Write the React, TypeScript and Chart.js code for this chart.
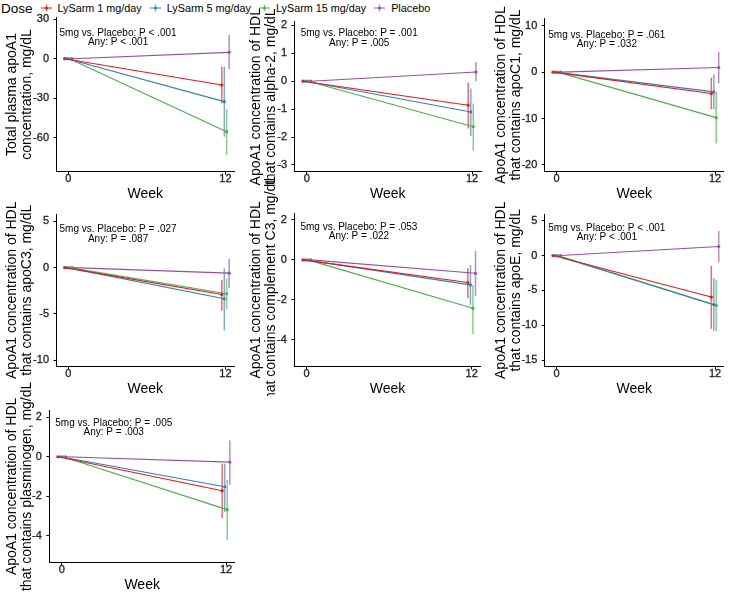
import React, { useEffect, useRef } from 'react';
import { Chart, registerables } from 'chart.js';

Chart.register(...registerables);

const FONT = '"Liberation Sans", Arial, Helvetica, sans-serif';

// ---------- data ----------
const WEEKS = [0, 12];
const DOSES = ['LySarm 1 mg/day', 'LySarm 5 mg/day', 'LySarm 15 mg/day', 'Placebo'];
const COLORS = ['#E41A1C', '#377EB8', '#4DAF4A', '#984EA3'];
const DODGE = [-0.28, -0.09, 0.09, 0.28];
const WEEK0_CHANGE = [0, 0, 0, 0];

// week-12 change from baseline: mean, lower, upper (dose order as DOSES)
const TOTAL_MEAN = [-19.9, -32.5, -55.2, 4.8];
const TOTAL_LO = [-33.7, -59.0, -72.8, -8.0];
const TOTAL_HI = [-6.1, -6.1, -38.3, 17.9];
const TOTAL_TICKS = [30, 0, -30, -60];

const ALPHA2_MEAN = [-0.86, -1.1, -1.63, 0.33];
const ALPHA2_LO = [-1.69, -1.96, -2.49, 0.01];
const ALPHA2_HI = [-0.06, -0.26, -0.8, 0.69];
const ALPHA2_TICKS = [2, 1, 0, -1, -2, -3];

const APOC1_MEAN = [-4.6, -4.25, -9.8, 1.0];
const APOC1_LO = [-8.0, -8.0, -15.4, -2.4];
const APOC1_HI = [-1.2, -0.5, -4.25, 4.4];
const APOC1_TICKS = [10, 0, -10, -20];

const APOC3_MEAN = [-2.91, -3.37, -2.83, -0.6];
const APOC3_LO = [-4.67, -6.78, -4.51, -2.2];
const APOC3_HI = [-1.31, -0.07, -1.2, 0.97];
const APOC3_TICKS = [5, 0, -5, -10];

const C3_MEAN = [-1.13, -1.25, -2.42, -0.67];
const C3_LO = [-1.92, -2.25, -3.7, -1.8];
const C3_HI = [-0.42, -0.25, -1.25, 0.45];
const C3_TICKS = [2, 0, -2, -4];

const APOE_MEAN = [-5.95, -7.05, -7.14, 1.29];
const APOE_LO = [-10.5, -10.76, -10.86, -0.95];
const APOE_HI = [-1.48, -3.24, -3.48, 3.5];
const APOE_TICKS = [5, 0, -5, -10, -15];

const PLG_MEAN = [-1.72, -1.52, -2.68, -0.27];
const PLG_LO = [-3.1, -2.8, -4.22, -1.43];
const PLG_HI = [-0.35, -0.35, -1.18, 0.82];
const PLG_TICKS = [2, 0, -2, -4];

const Y_TITLES = [
  ['Total plasma apoA1', 'concentration, mg/dL'],
  ['ApoA1 concentration of HDL', 'that contains alpha-2, mg/dL'],
  ['ApoA1 concentration of HDL', 'that contains apoC1, mg/dL'],
  ['ApoA1 concentration of HDL', 'that contains apoC3, mg/dL'],
  ['ApoA1 concentration of HDL', 'that contains complement C3, mg/dL'],
  ['ApoA1 concentration of HDL', 'that contains apoE, mg/dL'],
  ['ApoA1 concentration of HDL', 'that contains plasminogen, mg/dL'],
];
const P_5MG = ['P < .001', 'P = .001', 'P = .061', 'P = .027', 'P = .053', 'P < .001', 'P = .005'];
const P_ANY = ['P < .001', 'P = .005', 'P = .032', 'P = .087', 'P = .022', 'P < .001', 'P = .003'];
const ANNOT_X = 3.8;
const ANNOT_Y = [19.5, 1.7, 8.0, 4.1, 1.65, 3.9, 1.72];
const Y_RANGES = [
  [-85.5, 31.3],
  [-3.24, 2.13],
  [-21.45, 11.6],
  [-10.7, 5.8],
  [-5.33, 2.33],
  [-15.9, 5.95],
  [-5.37, 2.37],
];

const PANELS = [
  { mean: TOTAL_MEAN, lo: TOTAL_LO, hi: TOTAL_HI, ticks: TOTAL_TICKS },
  { mean: ALPHA2_MEAN, lo: ALPHA2_LO, hi: ALPHA2_HI, ticks: ALPHA2_TICKS },
  { mean: APOC1_MEAN, lo: APOC1_LO, hi: APOC1_HI, ticks: APOC1_TICKS },
  { mean: APOC3_MEAN, lo: APOC3_LO, hi: APOC3_HI, ticks: APOC3_TICKS },
  { mean: C3_MEAN, lo: C3_LO, hi: C3_HI, ticks: C3_TICKS },
  { mean: APOE_MEAN, lo: APOE_LO, hi: APOE_HI, ticks: APOE_TICKS },
  { mean: PLG_MEAN, lo: PLG_LO, hi: PLG_HI, ticks: PLG_TICKS },
];

// ---------- layout ----------
const X_MIN = -0.9;
const X_MAX = 12.65;
const GEOM = [
  { cx: 0, cy: 0, cw: 238, ch: 201, L: 56.5, T: 17.3, R: 234.5, B: 171.7, tx: 12.3 },
  { cx: 240, cy: 0, cw: 245, ch: 201, L: 294.5, T: 21.7, R: 482.3, B: 171.7, tx: 255.7 },
  { cx: 485, cy: 0, cw: 245, ch: 201, L: 544.8, T: 18.3, R: 723.6, B: 171.7, tx: 500.7 },
  { cx: 0, cy: 160, cw: 238, ch: 236, L: 56.5, T: 214, R: 234.5, B: 366.5, tx: 12.3 },
  { cx: 240, cy: 160, cw: 245, ch: 236, L: 294.3, T: 213.3, R: 480.6, B: 366.5, tx: 256 },
  { cx: 485, cy: 160, cw: 245, ch: 236, L: 544.8, T: 214, R: 723.6, B: 366.5, tx: 500.7 },
  { cx: 0, cy: 355, cw: 240, ch: 237, L: 49.4, T: 410, R: 234.9, B: 562.7, tx: 12.3 },
];
const TITLE_SIZE = 14;
const TITLE_LH = 1.07;
const TICK_SIZE = 11;
const TICK_COLOR = '#222';

function rgba(hex: string, a: number) {
  const n = parseInt(hex.slice(1), 16);
  return `rgba(${(n >> 16) & 255},${(n >> 8) & 255},${n & 255},${a})`;
}

function fmt(v: number) {
  return v < 0 ? '-' + String(Math.abs(v)) : String(v);
}

const errorBarPlugin = {
  id: 'errorBars',
  beforeDatasetsDraw(chart: any) {
    const { ctx } = chart;
    const y = chart.scales.y;
    chart.data.datasets.forEach((ds: any, k: number) => {
      const meta = chart.getDatasetMeta(k);
      const pt = meta.data[1];
      if (!pt) return;
      ctx.save();
      ctx.strokeStyle = rgba(COLORS[k], 0.65);
      ctx.lineWidth = 1.5;
      ctx.beginPath();
      ctx.moveTo(pt.x, y.getPixelForValue(ds.errLo));
      ctx.lineTo(pt.x, y.getPixelForValue(ds.errHi));
      ctx.stroke();
      ctx.restore();
    });
  },
};

// y tick labels drawn from the scale's ticks (plain hyphen minus, slightly heavier)
const yLabelPlugin = {
  id: 'yLabels',
  afterDraw(chart: any) {
    const { ctx } = chart;
    const y = chart.scales.y;
    ctx.save();
    ctx.font = `${TICK_SIZE}px ${FONT}`;
    ctx.fillStyle = TICK_COLOR;
    ctx.strokeStyle = TICK_COLOR;
    ctx.lineWidth = 0.3;
    ctx.textAlign = 'right';
    ctx.textBaseline = 'middle';
    y.ticks.forEach((t: any) => {
      const py = Math.round(y.getPixelForValue(t.value));
      const label = fmt(t.value);
      ctx.fillText(label, y.right - 7.5, py);
      ctx.strokeText(label, y.right - 7.5, py);
    });
    ctx.restore();
  },
};

function annotationPlugin(i: number) {
  return {
    id: 'pAnnot' + i,
    afterDatasetsDraw(chart: any) {
      const { ctx } = chart;
      const x = chart.scales.x.getPixelForValue(ANNOT_X);
      const y = chart.scales.y.getPixelForValue(ANNOT_Y[i]);
      ctx.save();
      ctx.font = `10px ${FONT}`;
      ctx.fillStyle = '#000';
      ctx.textAlign = 'center';
      ctx.textBaseline = 'middle';
      ctx.fillText('5mg vs. Placebo: ' + P_5MG[i], x, y);
      ctx.fillText('Any: ' + P_ANY[i], x, y + 9.3);
      ctx.restore();
    },
  };
}

function makeChart(canvas: HTMLCanvasElement, i: number) {
  const p = PANELS[i];
  const g = GEOM[i];
  const yw = g.L - g.cx;
  const xh = g.cy + g.ch - g.B;
  const titlePad = g.tx - g.cx - (TITLE_SIZE * TITLE_LH) / 2;
  const axisCommon = {
    grid: { display: true, drawOnChartArea: false, drawTicks: true, tickLength: 3, color: '#000', tickColor: '#000' },
    border: { display: true, color: '#000', width: 1 },
  };
  return new Chart(canvas, {
    type: 'line',
    data: {
      datasets: DOSES.map((name, k) => ({
        label: name,
        data: WEEKS.map((w, j) => ({ x: w + DODGE[k], y: j === 0 ? WEEK0_CHANGE[k] : p.mean[k] })),
        borderColor: COLORS[k],
        backgroundColor: COLORS[k],
        pointBackgroundColor: COLORS[k],
        borderWidth: 1.1,
        pointRadius: 1.6,
        pointBorderWidth: 0,
        fill: false,
        tension: 0,
        errLo: p.lo[k],
        errHi: p.hi[k],
      })) as any,
    },
    options: {
      animation: false,
      responsive: false,
      devicePixelRatio: 1,
      layout: { padding: { left: 0, top: g.T - g.cy, right: g.cx + g.cw - g.R, bottom: 0 } },
      plugins: { legend: { display: false }, tooltip: { enabled: false } },
      scales: {
        x: {
          type: 'linear',
          min: X_MIN,
          max: X_MAX,
          afterBuildTicks: (s: any) => {
            s.ticks = WEEKS.map((v) => ({ value: v }));
          },
          afterFit: (s: any) => {
            s.height = xh;
          },
          ticks: {
            font: { family: FONT, size: TICK_SIZE, lineHeight: 0.75 },
            color: TICK_COLOR,
            textStrokeColor: TICK_COLOR,
            textStrokeWidth: 0.3,
            padding: 0,
            maxRotation: 0,
            callback: (v: number) => fmt(v),
          },
          title: {
            display: true,
            text: 'Week',
            font: { family: FONT, size: 14, lineHeight: 1 },
            color: '#000',
            padding: { top: 0, bottom: 0 },
          },
          ...axisCommon,
        },
        y: {
          type: 'linear',
          min: Y_RANGES[i][0],
          max: Y_RANGES[i][1],
          afterBuildTicks: (s: any) => {
            s.ticks = p.ticks.map((v) => ({ value: v }));
          },
          afterFit: (s: any) => {
            s.width = yw;
          },
          ticks: { display: false },
          title: {
            display: true,
            text: Y_TITLES[i],
            font: { family: FONT, size: TITLE_SIZE, lineHeight: TITLE_LH },
            color: '#000',
            padding: { top: titlePad, bottom: 0 },
          },
          ...axisCommon,
        },
      },
    } as any,
    plugins: [errorBarPlugin, yLabelPlugin, annotationPlugin(i)],
  });
}

function LegendKey({ color }: { color: string }) {
  return (
    <svg width={11} height={10} style={{ marginLeft: 8, marginRight: 6, display: 'block' }}>
      <line x1={0} y1={5} x2={11} y2={5} stroke={color} strokeWidth={1} />
      <line x1={5.5} y1={1.5} x2={5.5} y2={8.5} stroke={color} strokeOpacity={0.7} strokeWidth={1.2} />
      <circle cx={5.5} cy={5} r={1.5} fill={color} />
    </svg>
  );
}

export default function App() {
  const refs = useRef<(HTMLCanvasElement | null)[]>([]);
  useEffect(() => {
    const charts = PANELS.map((_, i) => makeChart(refs.current[i] as HTMLCanvasElement, i));
    return () => charts.forEach((c) => c.destroy());
  }, []);
  return (
    <div style={{ position: 'absolute', left: 0, top: 0, width: 730, height: 592, background: '#fff', overflow: 'hidden', fontFamily: FONT }}>
      <div style={{ position: 'absolute', left: 1, top: 0, height: 16, display: 'flex', alignItems: 'center', whiteSpace: 'nowrap', color: '#000' }}>
        <span style={{ fontSize: 13.5 }}>Dose</span>
        {DOSES.map((d, k) => (
          <React.Fragment key={d}>
            <LegendKey color={COLORS[k]} />
            <span style={{ fontSize: 10.8 }}>{d}</span>
          </React.Fragment>
        ))}
      </div>
      {GEOM.map((g, i) => (
        <canvas
          key={i}
          ref={(el) => {
            refs.current[i] = el;
          }}
          width={g.cw}
          height={g.ch}
          style={{ position: 'absolute', left: g.cx, top: g.cy, width: g.cw, height: g.ch }}
        />
      ))}
    </div>
  );
}
